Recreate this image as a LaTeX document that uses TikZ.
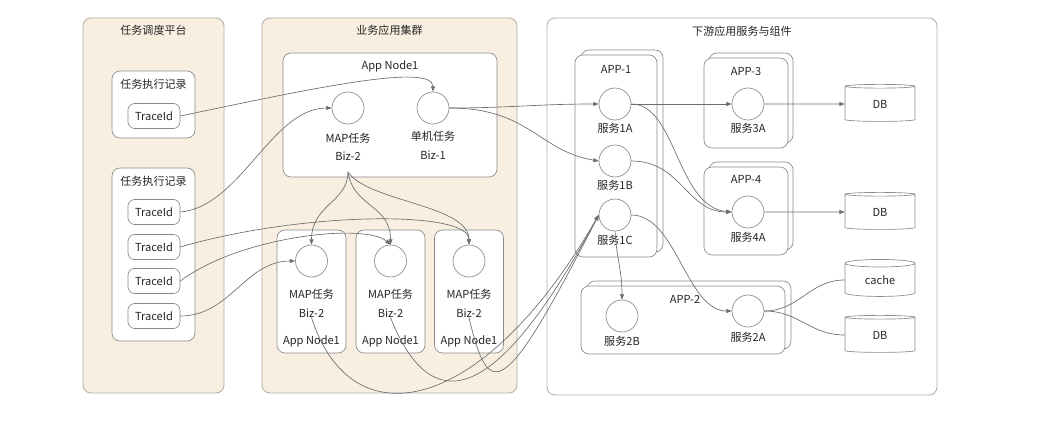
\documentclass[tikz,border=0pt]{standalone}
\usepackage{fontspec}
\setmainfont{Noto Sans CJK SC}
\usetikzlibrary{arrows.meta,positioning,shapes.geometric}
\definecolor{bizc}{HTML}{F8EFE1}
\definecolor{framec}{HTML}{B3ACA2}
\definecolor{edgec}{HTML}{8A8A8A}
\definecolor{wirec}{HTML}{6E6E6E}
\definecolor{txtc}{HTML}{262626}
\tikzset{
  sz/.style 2 args={minimum width=#1*0.75pt, minimum height=#2*0.75pt},
  zone/.style={draw=framec, fill=bizc, rounded corners=6pt, line width=0.6pt, inner sep=0pt},
  card/.style={draw=edgec, fill=white, rounded corners=6pt, line width=0.5pt, inner sep=0pt},
  lbl/.style={font=\fontsize{8.3}{10}\selectfont, text=txtc, inner sep=0pt},
  tid/.style={card, lbl, sz={52}{25}, rounded corners=5pt},
  svc/.style={circle, draw=edgec, fill=white, line width=0.5pt, minimum size=24pt, inner sep=0pt},
  store/.style={cylinder, shape border rotate=90, aspect=0.25, draw=edgec, fill=white,
                line width=0.5pt, lbl, minimum width=52.5pt, minimum height=27.75pt},
  arr/.style={-{Triangle[length=4pt,width=3pt]}, draw=wirec, line width=0.5pt},
  wire/.style={draw=wirec, line width=0.5pt},
}

\begin{document}
\begin{tikzpicture}[x=0.75pt, y=-0.75pt]
\useasboundingbox[fill=white] (0,0) rectangle (1058,438);
% three zones
\node[zone, sz={141}{375}] (sched) at (153.5,205.5) {};
\node[lbl] (schedt) at (153.5,30) {任务调度平台};
\node[zone, sz={255}{375}] (biz) at (389.5,205.5) {};
\node[lbl] (bizt) at (389.5,30) {业务应用集群};
\node[zone, fill=white, sz={390}{377}] (down) at (742,206.5) {};
\node[lbl] (downt) at (742,31) {下游应用服务与组件};
% task records
\node[card, sz={83}{67}] (rec1) at (153.5,104.5) {};
\node[lbl] (rec1t) at (153.5,84) {任务执行记录};
\node[tid] (tr1) at (154,116) {TraceId};
\node[card, sz={83}{173}] (rec2) at (153.5,254.5) {};
\node[lbl] (rec2t) at (153.5,181) {任务执行记录};
\foreach \i/\y in {2/212,3/247,4/281,5/316}
  \node[tid] (tr\i) at (154,\y) {TraceId};
% app nodes
\node[card, sz={214}{124}] (an0) at (390,115) {};
\node[lbl] (an0t) at (390,66) {App Node1};
\node[svc] (mapc) at (348,108) {};
\node[lbl] (mapt) at (348,138) {MAP任务};
\node[lbl] (mapb) at (348,156) {Biz-2};
\node[svc] (solo) at (433,108) {};
\node[lbl] (solot) at (433,136) {单机任务};
\node[lbl] (solob) at (433,155) {Biz-1};
\coordinate (fan) at (348,172);
\foreach \i/\x in {1/311.5,2/390.5,3/469} {
  \node[card, sz={69}{123}] (an\i) at (\x,291.5) {};
  \node[svc] (m\i) at (\x,261) {};
  \node[lbl] (mt\i) at (\x,294) {MAP任务};
  \node[lbl] (bz\i) at (\x,313) {Biz-2};
  \node[lbl] (ant\i) at (\x,341) {App Node1};
}
% downstream apps
\node[card, sz={82}{202}] (app1b) at (622,151) {};
\node[card, sz={82}{202}] (app1) at (616,156) {};
\node[lbl] (app1t) at (616,69) {APP-1};
\node[svc] (s1a) at (615,104) {};
\node[lbl] (s1at) at (615,128) {服务1A};
\node[svc] (s1b) at (615,161) {};
\node[lbl] (s1bt) at (615,185) {服务1B};
\node[svc] (s1c) at (615,215) {};
\node[lbl] (s1ct) at (615,240) {服务1C};
\node[card, sz={84}{90}] (app3b) at (751,98) {};
\node[card, sz={84}{90}] (app3) at (746,103) {};
\node[lbl] (app3t) at (746,72) {APP-3};
\node[svc] (s3a) at (748,104) {};
\node[lbl] (s3at) at (748,128) {服务3A};
\node[card, sz={84}{88}] (app4b) at (751,206) {};
\node[card, sz={84}{88}] (app4) at (746,211) {};
\node[lbl] (app4t) at (746,179) {APP-4};
\node[svc] (s4a) at (748,212) {};
\node[lbl] (s4at) at (748,237) {服务4A};
\node[card, sz={204}{68}] (app2b) at (689,315) {};
\node[card, sz={204}{68}] (app2) at (683,320) {};
\node[lbl] (app2t) at (685,299) {APP-2};
\node[svc] (s2b) at (622,316) {};
\node[lbl] (s2bt) at (622,341) {服务2B};
\node[svc] (s2a) at (748,311) {};
\node[lbl] (s2at) at (748,337) {服务2A};
\node[store] (db1) at (880,104) {DB};
\node[store] (db2) at (880,212) {DB};
\node[store] (cache) at (880,280) {cache};
\node[store] (db3) at (880,335) {DB};
% links
\draw[arr] (tr1.east) .. controls +(120,-25) and +(0,-30) .. (solo.north);
\draw[arr] (tr2.east) .. controls +(60,-5) and +(-60,0) .. (mapc.west);
\draw[arr] (tr3.east) .. controls +(120,-35) and +(0,-35) .. (m3.north);
\draw[arr] (tr4.east) .. controls +(60,-45) and +(-25,-22) .. (m2.north);
\draw[arr] (tr5.east) .. controls +(50,0) and +(-50,0) .. (m1.west);
\draw[arr] (fan) .. controls +(0,30) and +(0,-40) .. (m1.north);
\draw[arr] (fan) .. controls +(5,35) and +(0,-40) .. (m2.north);
\draw[arr] (fan) .. controls +(20,30) and +(0,-40) .. (m3.north);
\draw[arr] (solo.east) .. controls +(60,0) and +(-60,0) .. (s1a.west);
\draw[arr] (solo.east) .. controls +(80,0) and +(-60,-10) .. (s1b.west);
\draw[arr] (bz1.south) .. controls +(40,125) and +(-115,200) .. (s1c.west);
\draw[arr] (bz2.south) .. controls +(40,100) and +(-105,195) .. (s1c.west);
\draw[arr] (bz3.south) .. controls +(20,85) and +(-95,185) .. (s1c.west);
\draw[arr] (s1a.east) -- (s3a.west);
\draw[arr] (s1a.east) .. controls +(45,0) and +(-55,-5) .. (s4a.west);
\draw[arr] (s1b.east) .. controls +(50,0) and +(-45,0) .. (s4a.west);
\draw[arr] (s3a.east) -- (db1.west);
\draw[arr] (s4a.east) -- (db2.west);
\draw[arr] (s1c.south) .. controls +(2,30) and +(0,-30) .. (s2b.north);
\draw[arr] (s1c.east) .. controls +(45,0) and +(-45,0) .. (s2a.west);
\draw[wire] (s2a.east) .. controls +(35,0) and +(-35,0) .. (cache.west);
\draw[wire] (s2a.east) .. controls +(35,0) and +(-35,0) .. (db3.west);
\end{tikzpicture}
\end{document}
